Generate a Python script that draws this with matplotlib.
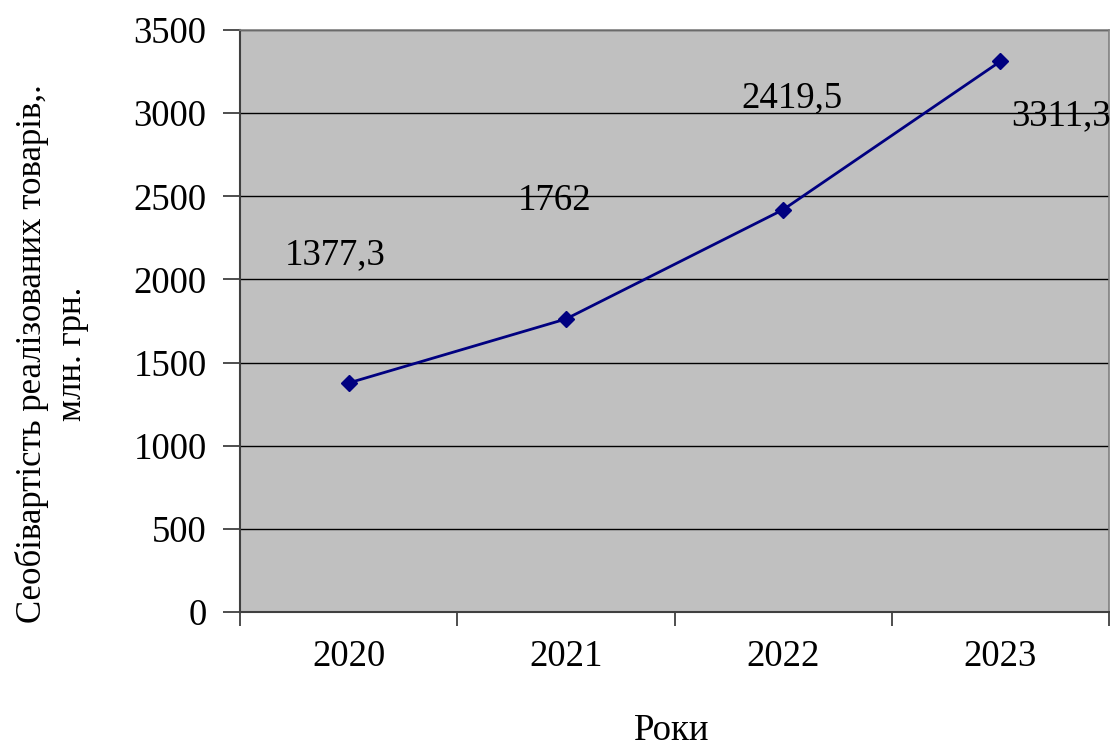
import matplotlib

matplotlib.use("Agg")
import matplotlib.pyplot as plt  # noqa: E402
import numpy as np  # noqa: E402

years = ["2020", "2021", "2022", "2023"]
cost = [1377.3, 1762, 2419.5, 3311.3]
value_labels = ["1377,3", "1762", "2419,5", "3311,3"]
y_ticks = [0, 500, 1000, 1500, 2000, 2500, 3000, 3500]

# label placement relative to each point (x in category units, y in data units)
_LABEL_DX = [-0.06, -0.05, 0.04, 0.28]
_LABEL_DY = [770, 710, 670, -330]

plt.rcParams["font.family"] = ["Liberation Serif", "DejaVu Serif"]
plt.rcParams["font.size"] = 26.5

fig = plt.figure(figsize=(11.1, 7.49), dpi=100)
ax = fig.add_axes([240 / 1110, 1 - 612 / 749, 869 / 1110, 582 / 749])
ax.set_facecolor("#c0c0c0")

x = np.arange(len(years))
ax.plot(x, cost, color="#000080", lw=2, marker="D", ms=8, zorder=3)

for i, lab in enumerate(value_labels):
    ax.text(x[i] + _LABEL_DX[i], cost[i] + _LABEL_DY[i], lab,
            ha="center", va="center", color="black", clip_on=False)

ax.set_xlim(-0.5, len(years) - 0.5)
ax.set_ylim(0, 3500)
ax.set_yticks(y_ticks)
ax.yaxis.grid(True, color="black", lw=1)
ax.set_axisbelow(True)

ax.set_xticks(x)
ax.set_xticklabels(years)
ax.set_xticks(np.arange(len(years) + 1) - 0.5, minor=True)
ax.tick_params(axis="x", which="major", length=0, pad=20)
ax.tick_params(axis="x", which="minor", length=10, width=1.3, color="#404040")
ax.tick_params(axis="y", length=12, width=1.3, color="#404040", pad=12)

for side in ("left", "bottom"):
    ax.spines[side].set_color("#404040")
    ax.spines[side].set_linewidth(1.5)
for side in ("top", "right"):
    ax.spines[side].set_color("#808080")
    ax.spines[side].set_linewidth(1.2)

fig.text(52 / 1110, 1 - 354 / 749,
         "Сеобівартість реалізованих товарів,.\nмлн. грн.",
         rotation=90, ha="center", va="center", multialignment="center",
         linespacing=1.3, fontsize=25)
fig.text(672 / 1110, 1 - 731 / 749, "Роки", ha="center", va="center")

fig.savefig("out.png", dpi=100)
